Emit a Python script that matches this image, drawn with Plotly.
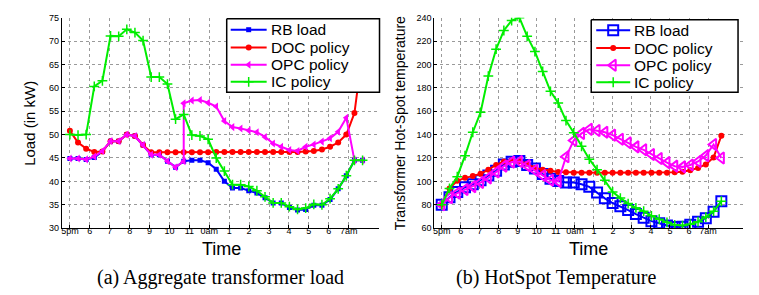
import plotly.graph_objects as go

W, H = 759, 295

# ---------------- data ----------------
sample_minutes = 24.5            # spacing between samples
n_samples = 37
times_h = [k * sample_minutes / 60 for k in range(n_samples)]   # hours after 5pm

tick_hours = list(range(15))
tick_labels = ['5pm', '6', '7', '8', '9', '10', '11', '0am', '1', '2', '3', '4', '5', '6', '7am']

# (a) aggregate transformer load (kW)
rb_load = [44.9, 44.9, 44.7, 45.1, 46.4, 48.6, 48.6, 50.0, 49.7, 47.8, 45.7, 45.7, 44.3, 43.0,
           44.3, 44.5, 44.5, 44.0, 42.6, 40.0, 38.6, 38.6, 38.0, 37.5, 36.5, 35.4, 35.4, 34.4,
           33.9, 34.0, 34.9, 34.9, 36.1, 38.4, 41.2, 44.5, 44.5]
doc_load = [50.8, 48.3, 47.0, 46.3, 46.4, 48.6, 48.6, 50.0, 49.7, 47.8, 46.2, 46.2, 46.2, 46.2,
            46.2, 46.2, 46.2, 46.2, 46.3, 46.3, 46.3, 46.3, 46.3, 46.3, 46.3, 46.3, 46.3, 46.3,
            46.3, 46.4, 46.5, 46.8, 47.4, 48.3, 50.0, 54.6, 68.0]
opc_load_idx = list(range(15)) + [14] + list(range(15, 37))
opc_load = [44.9, 44.9, 44.7, 45.3, 46.5, 48.6, 48.6, 50.0, 49.7, 47.8, 45.7, 45.7, 44.3, 43.0,
            44.3, 56.7, 57.3, 57.4, 56.8, 56.0, 52.9, 51.6, 51.3, 50.9, 50.5, 49.5, 48.1, 47.4,
            46.7, 46.5, 47.4, 47.9, 48.5, 49.2, 50.6, 53.6, 44.5, 44.5]
ic_load = [50.0, 49.9, 50.0, 60.3, 61.5, 71.1, 71.0, 72.5, 71.8, 70.1, 62.3, 62.3, 60.8, 53.3,
           54.3, 49.9, 49.7, 49.0, 45.0, 42.2, 39.3, 39.3, 38.9, 38.0, 36.7, 35.4, 35.4, 34.6,
           34.0, 34.3, 35.1, 35.0, 36.3, 38.4, 41.2, 44.5, 44.5]

# (b) hot-spot temperature
rb_temp = [80.0, 86.5, 91.0, 95.0, 97.5, 101.0, 105.0, 109.0, 114.5, 116.8, 117.5, 114.0, 111.0,
           106.3, 102.2, 100.3, 99.0, 99.0, 97.5, 95.3, 90.5, 85.5, 81.5, 78.8, 75.5, 72.0, 68.8,
           66.0, 64.2, 62.2, 61.0, 61.3, 63.0, 65.5, 68.5, 74.0, 83.0]
doc_temp = [80.0, 94.0, 100.5, 103.0, 104.5, 106.5, 110.0, 114.0, 117.0, 118.0, 117.5, 115.0,
            111.5, 110.0, 109.0, 108.0, 107.8, 107.3, 107.3, 107.3, 107.3, 107.3, 107.3, 107.3,
            107.3, 107.3, 107.3, 107.3, 107.3, 107.3, 107.8, 108.3, 109.5, 111.5, 114.5, 120.5, 139.0]
opc_temp = [80.0, 86.0, 90.0, 93.0, 95.5, 99.0, 103.0, 108.0, 113.0, 116.5, 117.0, 113.5, 109.5,
            105.0, 101.0, 100.0, 121.0, 135.0, 141.0, 144.5, 143.5, 142.0, 139.5, 136.0, 133.0,
            129.5, 127.0, 123.0, 119.6, 116.0, 113.0, 112.4, 114.0, 117.0, 122.0, 131.5, 120.0]
ic_temp = [80.0, 94.0, 104.0, 122.0, 142.0, 159.0, 190.0, 213.0, 229.0, 237.5, 240.0, 224.0,
           211.0, 194.0, 177.0, 167.0, 152.0, 141.5, 130.0, 119.0, 110.0, 101.0, 91.0, 85.7,
           81.0, 77.4, 74.5, 70.5, 67.7, 65.0, 62.8, 62.2, 63.4, 65.5, 69.5, 74.5, 83.0]

series_names = ['RB load', 'DOC policy', 'OPC policy', 'IC policy']

# ---------------- styling ----------------
BLUE, RED, MAG, GREEN = '#0000ff', '#ff0000', '#ff00ff', '#00ee00'
FONT = 'Liberation Sans, Arial, sans-serif'
SERIF = 'Liberation Serif, Times New Roman, serif'
colors = [BLUE, RED, MAG, GREEN]

left_markers = [
    dict(symbol='square', size=5, color=BLUE),
    dict(symbol='circle', size=6, color=RED),
    dict(symbol='triangle-left', size=7, color=MAG),
    dict(symbol='cross-thin', size=7, color=GREEN, line=dict(width=1.5, color=GREEN)),
]
right_markers = [
    dict(symbol='square-open', size=10, color=BLUE, line=dict(width=2, color=BLUE)),
    dict(symbol='circle', size=6, color=RED),
    dict(symbol='triangle-left-open', size=10, color=MAG, line=dict(width=2, color=MAG)),
    dict(symbol='cross-thin', size=7, color=GREEN, line=dict(width=1.5, color=GREEN)),
]

fig = go.Figure()


def px_x(p):
    return p / W


def px_y(p):
    return 1 - p / H


opc_load_x = [times_h[i] for i in opc_load_idx]
left_x = [times_h, times_h, opc_load_x, times_h]
left_y = [rb_load, doc_load, opc_load, ic_load]
right_y = [rb_temp, doc_temp, opc_temp, ic_temp]

for i in range(4):
    fig.add_trace(go.Scatter(x=left_x[i], y=left_y[i], name=series_names[i], mode='lines+markers',
                             line=dict(color=colors[i], width=2), marker=left_markers[i],
                             xaxis='x', yaxis='y', showlegend=False, hoverinfo='skip'))
for i in range(4):
    fig.add_trace(go.Scatter(x=times_h, y=right_y[i], name=series_names[i], mode='lines+markers',
                             line=dict(color=colors[i], width=2), marker=right_markers[i],
                             xaxis='x2', yaxis='y2', showlegend=False, hoverinfo='skip'))

# ---------------- legends (drawn in a pixel-space overlay) ----------------
legend_boxes = [
    dict(x0=218, x1=371, y0=6, y1=82, line_x0=222, line_x1=258, text_x=260, markers=left_markers),
    dict(x0=583, x1=730, y0=7, y1=82, line_x0=588, line_x1=622, text_x=624, markers=right_markers),
]
row_y = [17.3, 35.8, 53.6, 71.2]
annotations = []
for box in legend_boxes:
    fig.add_trace(go.Scatter(
        x=[box['x0'], box['x1'], box['x1'], box['x0'], box['x0']],
        y=[box['y0'], box['y0'], box['y1'], box['y1'], box['y0']],
        mode='lines', fill='toself', fillcolor='white', line=dict(color='black', width=1.5),
        xaxis='x3', yaxis='y3', showlegend=False, hoverinfo='skip'))
    for i in range(4):
        yc = row_y[i] + (box['y0'] - 6) * 0.5
        fig.add_trace(go.Scatter(
            x=[box['line_x0'], box['line_x1']], y=[yc, yc], mode='lines',
            line=dict(color=colors[i], width=2),
            xaxis='x3', yaxis='y3', showlegend=False, hoverinfo='skip'))
        fig.add_trace(go.Scatter(
            x=[(box['line_x0'] + box['line_x1']) / 2], y=[yc], mode='markers',
            marker=box['markers'][i],
            xaxis='x3', yaxis='y3', showlegend=False, hoverinfo='skip'))
        annotations.append(dict(text=series_names[i], x=px_x(box['text_x']), y=px_y(yc),
                                xanchor='left', font=dict(size=15.5)))

axis_common = dict(showline=True, linecolor='black', linewidth=1, mirror=False,
                   ticks='inside', ticklen=3, tickcolor='black', tickwidth=1,
                   showgrid=True, gridcolor='#9a9a9a', griddash='dot', gridwidth=1,
                   zeroline=False, ticklabeloverflow='allow',
                   tickfont=dict(family=FONT, size=9, color='black'))

y_dom = [px_y(222.7), px_y(4.8)]

fig.update_layout(
    width=W, height=H,
    margin=dict(l=0, r=0, t=0, b=0),
    paper_bgcolor='white', plot_bgcolor='rgba(0,0,0,0)',
    font=dict(family=FONT, color='black'),
    showlegend=False,
    xaxis=dict(domain=[px_x(53), px_x(370)], range=[-0.40, 15.5], anchor='y',
               tickmode='array', tickvals=tick_hours, ticktext=tick_labels,
               ticklabelstandoff=-6, **axis_common),
    yaxis=dict(domain=y_dom, range=[30, 75], anchor='x', tickmode='linear', tick0=30, dtick=5,
               **axis_common),
    xaxis2=dict(domain=[px_x(426), px_x(735)], range=[-0.383, 15.84], anchor='y2',
                tickmode='array', tickvals=tick_hours, ticktext=tick_labels,
                ticklabelstandoff=-6, **axis_common),
    yaxis2=dict(domain=y_dom, range=[60, 240], anchor='x2', tickmode='linear', tick0=60, dtick=20,
                **axis_common),
    xaxis3=dict(domain=[0, 1], range=[0, W], anchor='y3', visible=False, fixedrange=True),
    yaxis3=dict(domain=[0, 1], range=[H, 0], anchor='x3', visible=False, fixedrange=True),
)

annotations += [
    dict(text='Load (in kW)', x=px_x(21), y=px_y(113.7), textangle=-90, font=dict(size=15)),
    dict(text='Transformer Hot-Spot temperature', x=px_x(391), y=px_y(113.7), textangle=-90,
         font=dict(size=14)),
    dict(text='Time', x=px_x(213), y=px_y(244), font=dict(size=18)),
    dict(text='Time', x=px_x(580.5), y=px_y(244), font=dict(size=18)),
    dict(text='(a) Aggregate transformer load', x=px_x(212), y=px_y(274),
         font=dict(size=20, family=SERIF)),
    dict(text='(b) HotSpot Temperature', x=px_x(548), y=px_y(274),
         font=dict(size=20, family=SERIF)),
]
for a in annotations:
    a.update(xref='paper', yref='paper', showarrow=False, yanchor='middle')
    a.setdefault('xanchor', 'center')
    a['font'].setdefault('color', 'black')
    a['font'].setdefault('family', FONT)
fig.update_layout(annotations=annotations)

fig.write_html('out.html')
